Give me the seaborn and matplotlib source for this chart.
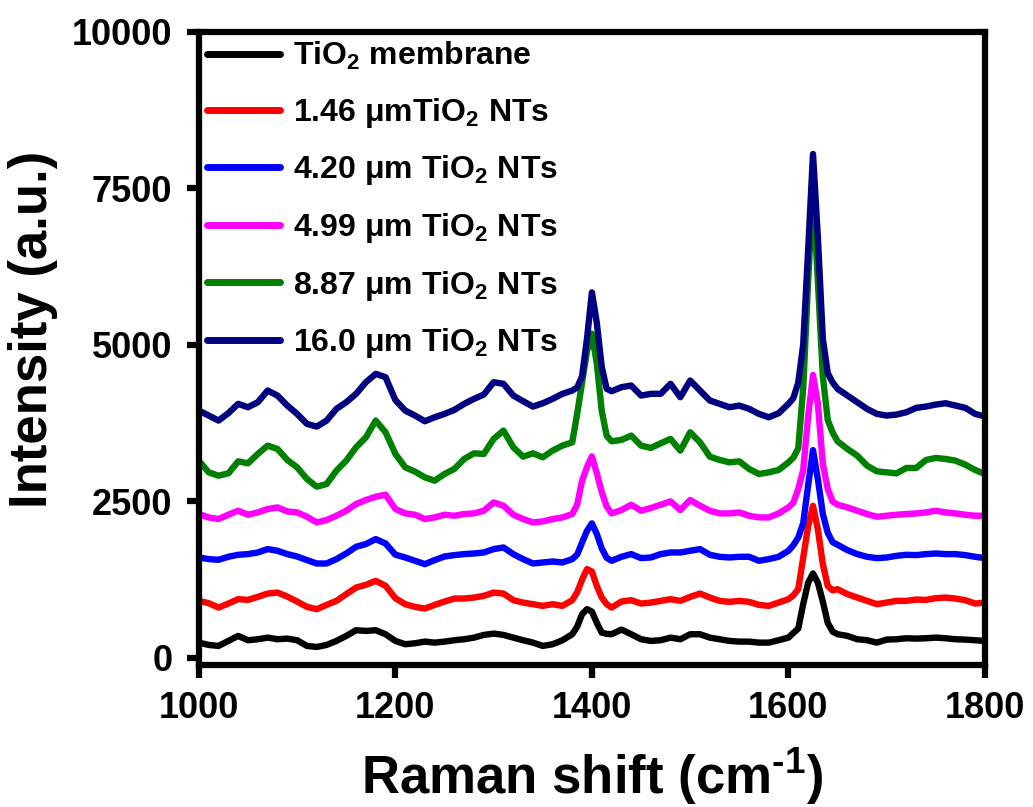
import numpy as np
import pandas as pd
import matplotlib
matplotlib.use("Agg")
import matplotlib.pyplot as plt
import seaborn as sns

# ---------------- data ----------------
raman_shift = (list(range(1000, 1381, 10)) + [1385, 1390, 1395, 1400, 1405, 1410, 1415]
               + list(range(1420, 1601, 10)) + [1605, 1610, 1615, 1620, 1625, 1630, 1635, 1640, 1645]
               + list(range(1650, 1801, 10)))

tio2_membrane = [245, 208, 192, 272, 352, 283, 299, 325, 299, 309, 283, 192, 176, 208, 272, 352, 443, 432, 443, 379, 272,
                 219, 235, 261, 245, 261, 283, 299, 325, 368, 389, 368, 325, 283, 245, 192, 219, 283, 379,
                 500, 700, 780, 740, 560, 405, 385,
                 379, 453, 379, 299, 272, 283, 325, 299, 379, 379, 325, 299, 272, 261, 261, 245, 245, 283, 325,
                 400, 470, 860, 1200, 1350, 1200, 900, 560, 420,
                 379, 352, 299, 283, 245, 293, 299, 315, 309, 315, 325, 315, 299, 293, 283, 272]

nts_146 = [912, 875, 805, 869, 939, 928, 976, 1029, 1045, 981, 901, 816, 779, 848, 912, 1019, 1125, 1168, 1232, 1152, 955,
           859, 816, 789, 848, 901, 949, 949, 965, 992, 1045, 1029, 923, 885, 859, 832, 859, 832, 923,
           1050, 1250, 1420, 1380, 1150, 965, 860,
           805, 901, 923, 869, 885, 912, 939, 912, 976, 1029, 965, 912, 896, 912, 896, 848, 832, 885, 939,
           1000, 1100, 1600, 2100, 2430, 2050, 1500, 1150, 1080,
           1099, 1019, 965, 912, 859, 885, 912, 912, 933, 928, 955, 965, 949, 923, 869, 885]

nts_420 = [1605, 1579, 1568, 1616, 1648, 1659, 1685, 1739, 1712, 1659, 1621, 1563, 1509, 1509, 1579, 1669, 1776, 1819, 1899, 1829, 1650,
           1605, 1552, 1499, 1563, 1621, 1643, 1659, 1669, 1685, 1739, 1765, 1659, 1579, 1509, 1525, 1541, 1525, 1579,
           1650, 1845, 2030, 2150, 1980, 1750, 1600,
           1552, 1616, 1659, 1595, 1605, 1659, 1685, 1685, 1712, 1739, 1648, 1616, 1605, 1616, 1616, 1552, 1579, 1616, 1712,
           1800, 1925, 2150, 2750, 3320, 2850, 2300, 2000, 1850,
           1808, 1723, 1659, 1616, 1595, 1605, 1632, 1648, 1643, 1659, 1669, 1659, 1659, 1643, 1616, 1595]

nts_499 = [2299, 2245, 2219, 2288, 2352, 2288, 2325, 2379, 2405, 2341, 2325, 2256, 2165, 2203, 2272, 2352, 2459, 2523, 2576, 2608, 2380,
           2309, 2288, 2219, 2245, 2288, 2272, 2299, 2309, 2352, 2485, 2432, 2288, 2219, 2165, 2181, 2219, 2245, 2299,
           2450, 2832, 3050, 3220, 2950, 2650, 2420,
           2309, 2363, 2448, 2352, 2395, 2448, 2501, 2363, 2523, 2432, 2352, 2309, 2309, 2325, 2272, 2245, 2245, 2309, 2405,
           2480, 2700, 3000, 3850, 4520, 4050, 3100, 2700, 2500,
           2448, 2405, 2352, 2299, 2256, 2272, 2288, 2299, 2309, 2325, 2352, 2325, 2309, 2288, 2272, 2272]

nts_887 = [3152, 2965, 2912, 2949, 3141, 3109, 3259, 3392, 3339, 3163, 3045, 2859, 2736, 2779, 2992, 3152, 3365, 3525, 3792, 3605, 3260,
           3045, 2976, 2885, 2832, 2939, 3019, 3179, 3269, 3259, 3499, 3632, 3365, 3216, 3269, 3205, 3312, 3392, 3445,
           3900, 4400, 4900, 5180, 4700, 3950, 3550,
           3461, 3483, 3552, 3392, 3355, 3429, 3499, 3312, 3605, 3445, 3216, 3163, 3125, 3141, 3019, 2939, 2965, 3003, 3125,
           3200, 3350, 4300, 6000, 7500, 6000, 4500, 3800, 3600,
           3461, 3339, 3232, 3072, 2981, 2965, 2949, 3035, 3035, 3163, 3195, 3179, 3152, 3088, 3003, 2939]

nts_160 = [3952, 3872, 3792, 3910, 4059, 4005, 4085, 4272, 4192, 4032, 3899, 3739, 3696, 3792, 3979, 4085, 4219, 4405, 4539, 4485, 4120,
           3952, 3872, 3781, 3845, 3899, 3963, 4059, 4139, 4208, 4405, 4379, 4192, 4101, 4016, 4069, 4139, 4219, 4272,
           4320, 4500, 5100, 5840, 5350, 4650, 4300,
           4261, 4325, 4352, 4192, 4219, 4219, 4379, 4165, 4432, 4272, 4112, 4059, 4005, 4032, 3979, 3899, 3845, 3909, 4059,
           4150, 4400, 5000, 6500, 8050, 6700, 5100, 4550, 4400,
           4299, 4192, 4085, 3979, 3899, 3872, 3888, 3925, 3995, 4016, 4048, 4069, 4032, 3995, 3899, 3856]

series_labels = [r"TiO$_\mathbf{2}$ membrane",
                 r"1.46 μmTiO$_\mathbf{2}$ NTs",
                 r"4.20 μm TiO$_\mathbf{2}$ NTs",
                 r"4.99 μm TiO$_\mathbf{2}$ NTs",
                 r"8.87 μm TiO$_\mathbf{2}$ NTs",
                 r"16.0 μm TiO$_\mathbf{2}$ NTs"]
series_colors = ["#000000", "#FF0000", "#0000FF", "#FF00FF", "#008000", "#000080"]
x_ticks = [1000, 1200, 1400, 1600, 1800]
y_ticks = [0, 2500, 5000, 7500, 10000]

# ---------------- figure ----------------
sns.set_theme(style="ticks")
plt.rcParams["font.family"] = ["Liberation Sans", "DejaVu Sans"]
plt.rcParams["font.weight"] = "bold"
plt.rcParams["mathtext.fontset"] = "custom"
plt.rcParams["mathtext.rm"] = "Liberation Sans:bold"
plt.rcParams["mathtext.bf"] = "Liberation Sans:bold"
plt.rcParams["mathtext.it"] = "Liberation Sans:bold"
for key in ["text.color", "axes.labelcolor", "xtick.color", "ytick.color", "axes.edgecolor"]:
    plt.rcParams[key] = "black"

all_series = [tio2_membrane, nts_146, nts_420, nts_499, nts_887, nts_160]
frames = []
for lab, vals in zip(series_labels, all_series):
    frames.append(pd.DataFrame({"shift": raman_shift, "intensity": vals, "sample": lab}))
df = pd.concat(frames, ignore_index=True)

fig = plt.figure(figsize=(10.33, 8.07), dpi=100)
ax = fig.add_axes([0.1925, 0.176, 0.761, 0.7844])

sns.lineplot(data=df, x="shift", y="intensity", hue="sample", hue_order=series_labels,
             palette=series_colors, linewidth=4.6, estimator=None, sort=True, ax=ax)

ax.set_xlim(1000, 1800)
ax.set_ylim(-112, 10000)
ax.set_xticks(x_ticks)
ax.set_yticks(y_ticks)
ax.tick_params(axis="both", which="major", direction="out", length=9, width=4.5,
               labelsize=26, colors="black")
ax.tick_params(axis="x", pad=10)
ax.tick_params(axis="y", pad=10)
for lbl in ax.get_xticklabels() + ax.get_yticklabels():
    lbl.set_fontweight("bold")
for sp in ax.spines.values():
    sp.set_linewidth(4.5)
    sp.set_color("black")
    sp.set_visible(True)

ax.set_xlabel(r"Raman shift (cm$^{\text{-}1}$)", fontsize=38, fontweight="bold", labelpad=14)
ax.set_ylabel("Intensity (a.u.)", fontsize=38, fontweight="bold", labelpad=10, y=0.53)

leg = ax.legend(loc="upper left", frameon=False, handlelength=2.3,
                handletextpad=0.4, labelspacing=0.74, borderaxespad=0.1, borderpad=0.15,
                prop={"weight": "bold", "size": 23})
for h in leg.get_lines():
    h.set_linewidth(5)

fig.savefig("out.png", dpi=100)
